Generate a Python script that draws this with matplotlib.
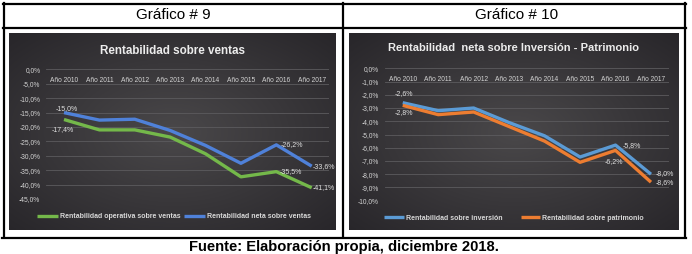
import numpy as np
import matplotlib
matplotlib.use("Agg")
import matplotlib.pyplot as plt
from matplotlib.lines import Line2D

# ---------------- data ----------------
years = ["Año 2010", "Año 2011", "Año 2012", "Año 2013", "Año 2014", "Año 2015", "Año 2016", "Año 2017"]

operativa_ventas = [-17.4, -21.0, -21.0, -23.5, -29.3, -37.3, -35.5, -41.1]
neta_ventas = [-15.0, -17.6, -17.3, -21.2, -26.4, -32.6, -26.2, -33.6]

inversion = [-2.6, -3.2, -3.0, -4.1, -5.1, -6.7, -5.8, -8.0]
patrimonio = [-2.8, -3.5, -3.3, -4.4, -5.5, -7.1, -6.2, -8.6]

ticks_left = list(range(-45, 1, 5))
ticks_right = list(range(-10, 1, 1))

header_left = "Gráfico # 9"
header_right = "Gráfico # 10"
title_left = "Rentabilidad sobre ventas"
title_right = "Rentabilidad  neta sobre Inversión - Patrimonio"
footer = "Fuente: Elaboración propia, diciembre 2018."

W, H = 692, 254
fig = plt.figure(figsize=(W / 100, H / 100), dpi=100)
fig.patch.set_facecolor("white")


def fx(x):
    return x / W


def fy(y):
    return 1 - y / H


def px2pt(p):
    return p * 0.72


SMALL = ["Liberation Sans Narrow", "Liberation Sans", "DejaVu Sans"]
ARIAL = ["Liberation Sans", "DejaVu Sans"]
TICKC = "#d4d4d4"


def pct(v):
    s = f"{v:.1f}%".replace(".", ",")
    if s == "-0,0%":
        s = "0,0%"
    return s


# ---------------- table borders ----------------
lw_b = 1.6
def hline(y, x0, x1):
    fig.add_artist(Line2D([fx(x0), fx(x1)], [fy(y), fy(y)], color="black", lw=lw_b,
                          transform=fig.transFigure))


def vline(x, y0, y1):
    fig.add_artist(Line2D([fx(x), fx(x)], [fy(y0), fy(y1)], color="black", lw=lw_b,
                          transform=fig.transFigure))


hline(3.5, 3, 686)
hline(27.5, 3, 686)
hline(238, 2, 686)
vline(3.5, 3, 236)
vline(342.5, 3, 236)
vline(685, 3, 236)

fig.text(fx(173), fy(15), header_left, ha="center", va="center", fontsize=11,
         family=ARIAL, color="black")
fig.text(fx(517), fy(15), header_right, ha="center", va="center", fontsize=11,
         family=ARIAL, color="black")
fig.text(fx(344), fy(250.5), footer, ha="center", va="baseline", fontsize=10.6,
         family=ARIAL, weight="bold", color="black")


# ---------------- chart backgrounds ----------------
def background(x0, y0, x1, y1):
    bg = fig.add_axes([fx(x0), fy(y1), (x1 - x0) / W, (y1 - y0) / H], zorder=0)
    ny, nx = 100, 160
    yy, xx = np.mgrid[0:ny, 0:nx]
    r = np.sqrt(((xx - nx / 2) / (nx / 2)) ** 2 + ((yy - ny / 2) / (ny / 2)) ** 2) / np.sqrt(2)
    c_in = np.array([74, 72, 74]) / 255
    c_out = np.array([40, 38, 42]) / 255
    img = c_in[None, None, :] * (1 - r[..., None]) + c_out[None, None, :] * r[..., None]
    bg.imshow(np.clip(img, 0, 1), aspect="auto", interpolation="bilinear")
    bg.set_axis_off()
    return bg


background(9, 33, 336, 230)
background(349, 33, 679, 230)


def setup_axes(rect_px, ylim, yticks):
    x0, y0, x1, y1 = rect_px
    ax = fig.add_axes([fx(x0), fy(y1), (x1 - x0) / W, (y1 - y0) / H], zorder=2)
    ax.set_facecolor("none")
    ax.set_xlim(-0.5, 7.5)
    ax.set_ylim(*ylim)
    for s in ax.spines.values():
        s.set_visible(False)
    ax.set_yticks(yticks)
    ax.set_yticklabels([pct(v) for v in yticks])
    ax.tick_params(axis="y", length=0, pad=px2pt(6), labelsize=4.8, labelcolor=TICKC)
    ax.set_xticks(range(len(years)))
    ax.set_xticklabels(years)
    ax.xaxis.tick_top()
    ax.tick_params(axis="x", length=0, pad=-px2pt(15), labelsize=4.8, labelcolor=TICKC)
    for lab in ax.get_xticklabels() + ax.get_yticklabels():
        lab.set_family(SMALL)
    ax.yaxis.grid(True, color="#5c5b5e", lw=0.6)
    ax.set_axisbelow(True)
    return ax


def label(ax, text, i, v, dx, dy, ha="center"):
    ax.annotate(text, xy=(i, v), xytext=(px2pt(dx), -px2pt(dy)), textcoords="offset points",
                ha=ha, va="center", fontsize=5, family=SMALL, color="#e0e0e0", zorder=5)


# ---------------- left chart ----------------
ax1 = setup_axes((46.3, 69.4, 329.4, 199), (-45, 0), ticks_left)
x = np.arange(len(years))
l_op, = ax1.plot(x, operativa_ventas, color="#74b84a", lw=2.4, solid_capstyle="butt")
l_ne, = ax1.plot(x, neta_ventas, color="#4f81d9", lw=2.4, solid_capstyle="butt")
fig.text(fx(173), fy(51), title_left, ha="center", va="center", fontsize=8.4,
         family=ARIAL, weight="bold", color="#ececec", zorder=3)
label(ax1, pct(neta_ventas[0]), 0, neta_ventas[0], 3, -4)
label(ax1, pct(operativa_ventas[0]), 0, operativa_ventas[0], -1, 10)
label(ax1, pct(neta_ventas[6]), 6, neta_ventas[6], 4, 0, ha="left")
label(ax1, pct(operativa_ventas[6]), 6, operativa_ventas[6], 3, 0, ha="left")
label(ax1, pct(neta_ventas[7]), 7, neta_ventas[7], 1, 0, ha="left")
label(ax1, pct(operativa_ventas[7]), 7, operativa_ventas[7], 1, 0, ha="left")
leg1 = ax1.legend([l_op, l_ne], ["Rentabilidad operativa sobre ventas", "Rentabilidad neta sobre ventas"],
                  loc="center", bbox_to_anchor=(fx(174), fy(217)), bbox_transform=fig.transFigure,
                  ncol=2, frameon=False, handlelength=3.0, handletextpad=0.3, columnspacing=0.4,
                  prop={"family": ARIAL, "weight": "bold", "size": 5}, borderaxespad=0, borderpad=0)
for t in leg1.get_texts():
    t.set_color("#d8d8d8")

# ---------------- right chart ----------------
ax2 = setup_axes((385, 68.3, 668.7, 200.7), (-10, 0), ticks_right)
l_inv, = ax2.plot(x, inversion, color="#5b9bd5", lw=2.4, solid_capstyle="butt")
l_pat, = ax2.plot(x, patrimonio, color="#ed7d31", lw=2.4, solid_capstyle="butt")
fig.text(fx(513), fy(48), title_right, ha="center", va="center", fontsize=8.0,
         family=ARIAL, weight="bold", color="#ececec", zorder=3)
label(ax2, pct(inversion[0]), 0, inversion[0], 1, -9)
label(ax2, pct(patrimonio[0]), 0, patrimonio[0], 1, 7)
label(ax2, pct(inversion[6]), 6, inversion[6], 7, 0, ha="left")
label(ax2, pct(patrimonio[6]), 6, patrimonio[6], -2, 11)
label(ax2, pct(inversion[7]), 7, inversion[7], 5, -1, ha="left")
label(ax2, pct(patrimonio[7]), 7, patrimonio[7], 5, 0, ha="left")
leg2 = ax2.legend([l_inv, l_pat], ["Rentabilidad sobre inversión", "Rentabilidad sobre patrimonio"],
                  loc="center", bbox_to_anchor=(fx(514), fy(218)), bbox_transform=fig.transFigure,
                  ncol=2, frameon=False, handlelength=2.8, handletextpad=0.3, columnspacing=2.6,
                  prop={"family": ARIAL, "weight": "bold", "size": 5}, borderaxespad=0, borderpad=0)
for t in leg2.get_texts():
    t.set_color("#d8d8d8")

fig.savefig("out.png", dpi=100, facecolor="white")
